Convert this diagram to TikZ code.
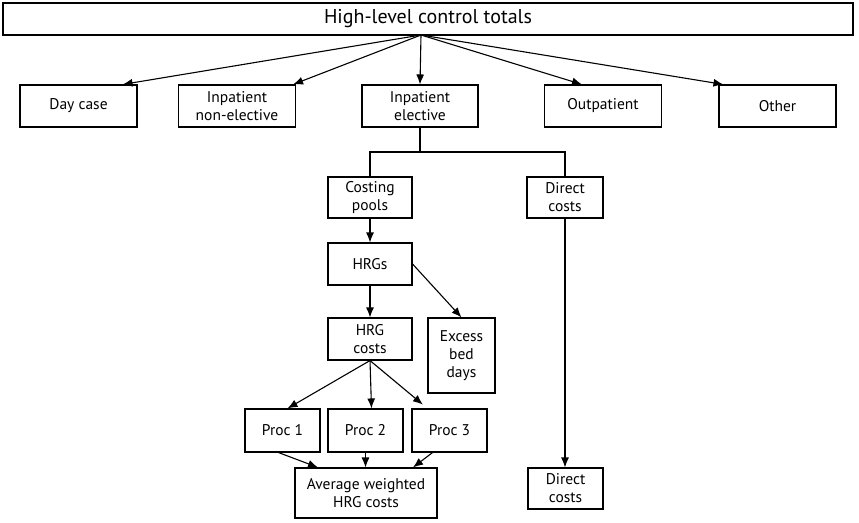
\documentclass[tikz,border=0pt]{standalone}
\usepackage{fontspec}
\setmainfont{PT Sans}
\usetikzlibrary{arrows.meta}
\begin{document}
\begin{tikzpicture}[x=1pt,y=-1pt,
        box/.style={draw=black,line width=1.1pt,align=center,inner sep=0pt,font=\fontsize{15.5}{18}\selectfont},
        link/.style={line width=1.1pt,-{Latex[length=10pt,width=8pt]}}]
    \useasboundingbox (0,0) rectangle (859,522);
    % top level and the five activity groups
    \node[box,minimum width=850pt,minimum height=32pt,font=\fontsize{20}{24}\selectfont] (top) at (428,19) {High-level control totals};
    \coordinate (hub) at (421,35);
    \node[box,minimum width=117pt,minimum height=42pt] (dcase) at (78.5,106) {Day case};
    \node[box,minimum width=117pt,minimum height=42pt] (nonel) at (237,106) {Inpatient\\non-elective};
    \node[box,minimum width=116pt,minimum height=42pt] (elect) at (420,106) {Inpatient\\elective};
    \node[box,minimum width=117pt,minimum height=42pt] (outpt) at (603,106) {Outpatient};
    \node[box,minimum width=117pt,minimum height=42pt] (other) at (777.5,106) {Other};
    \draw[link] (hub) -- ([xshift=-15pt]dcase.north east);
    \draw[link] (hub) -- ([xshift=-3pt]nonel.north east);
    \draw[link] (hub) -- (elect.north);
    \draw[link] (hub) -- ([xshift=-21pt]outpt.north);
    \draw[link] (hub) -- ([xshift=5pt]other.north west);
    % inpatient elective breakdown
    \node[box,minimum width=84pt,minimum height=41pt] (pools) at (370,197.5) {Costing\\pools};
    \node[box,minimum width=76pt,minimum height=41pt] (direct) at (565,197.5) {Direct\\costs};
    \coordinate (split) at (420,152);
    \draw[line width=1.1pt] (elect.south) -- (split);
    \draw[line width=1.1pt] (pools.north) |- (split) -| (direct.north);
    \node[box,minimum width=84pt,minimum height=42pt] (hrgs) at (370,264) {HRGs};
    \node[box,minimum width=84pt,minimum height=42pt] (hrgc) at (370,339) {HRG\\costs};
    \node[box,minimum width=67pt,minimum height=75pt] (excess) at (461.5,355.5) {Excess\\bed\\days};
    \draw[link] (pools) -- (hrgs);
    \draw[link] (hrgs) -- (hrgc);
    \draw[link] (hrgs.east) -- (excess.north);
    \node[box,minimum width=75pt,minimum height=43pt] (proca) at (282.5,430.5) {Proc 1};
    \node[box,minimum width=75pt,minimum height=43pt] (procb) at (365.5,430.5) {Proc 2};
    \node[box,minimum width=75pt,minimum height=43pt] (procc) at (449.5,430.5) {Proc 3};
    \draw[link] (hrgc.south) -- ([xshift=5pt]proca.north);
    \draw[link] (hrgc.south) -- ([xshift=6pt]procb.north);
    \draw[link,shorten >=6pt] (hrgc.south) -- ([xshift=-22pt]procc.north);
    \node[box,minimum width=142pt,minimum height=50pt] (avg) at (366,493) {Average weighted\\HRG costs};
    \node[box,minimum width=75pt,minimum height=41pt] (dcost) at (565.5,488.5) {Direct\\costs};
    \draw[link] ([xshift=-4pt]proca.south) -- ([xshift=-48pt]avg.north);
    \draw[link] (procb.south) -- (procb.south |- avg.north);
    \draw[link] ([xshift=-17pt]procc.south) -- ([xshift=47pt]avg.north);
    \draw[link] (direct) -- (direct.south |- dcost.north);
\end{tikzpicture}
\end{document}
